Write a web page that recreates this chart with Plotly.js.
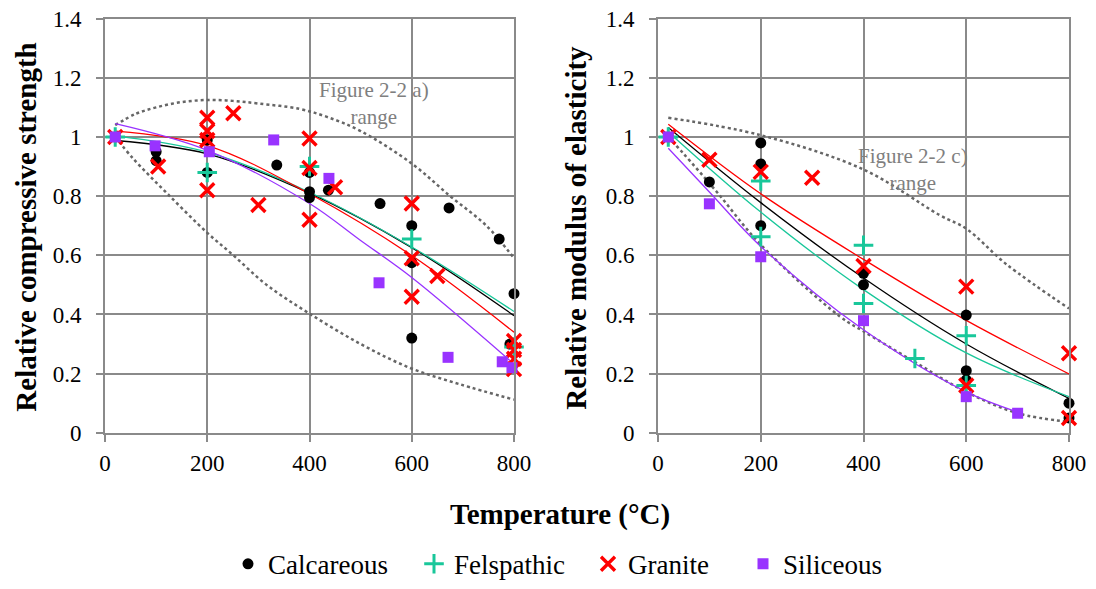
<!DOCTYPE html>
<html><head><meta charset="utf-8">
<script src="https://cdn.plot.ly/plotly-3.0.1.min.js"></script>
<style>html,body{margin:0;padding:0;background:#fff}#chart{width:1096px;height:589px}</style>
</head><body><div id="chart"></div>
<script>
// ---------- Left panel: relative compressive strength ----------
const calcT_L = [20,100,100,200,200,336,400,400,400,437,538,600,600,600,673,771,792,800];
const calcV_L = [1.0,0.95,0.92,0.99,0.88,0.905,0.88,0.815,0.795,0.82,0.775,0.70,0.575,0.32,0.76,0.655,0.30,0.47];
const felsT_L = [20,200,400,600,800];
const felsV_L = [1.0,0.88,0.90,0.655,0.29];
const granT_L = [20,104,200,200,200,200,251,300,400,400,400,450,600,600,600,650,800,800,800,800];
const granV_L = [1.0,0.90,1.065,1.02,0.99,0.82,1.08,0.77,0.995,0.895,0.72,0.83,0.775,0.59,0.46,0.53,0.31,0.28,0.25,0.215];
const silT_L = [20,98,204,330,438,536,671,777,796];
const silV_L = [1.0,0.97,0.95,0.99,0.86,0.507,0.255,0.24,0.22];

// trend lines (left)
const trendT_L = [20,200,400,600,800];
const calcTrend_L = [0.988,0.943,0.81,0.626,0.396];
const felsTrend_L = [1.004,0.949,0.813,0.628,0.41];
const granTrend_L = [1.02,0.971,0.808,0.599,0.34];
const silTrendT_L = [20,200,400,500,600,795];
const silTrend_L = [1.045,0.955,0.775,0.65,0.525,0.24];

// range envelope (left)
const upT_L = [20,60,100,150,200,250,300,380,434,500,600,675,746,800];
const upV_L = [1.04,1.078,1.10,1.118,1.125,1.122,1.113,1.095,1.068,1.02,0.91,0.80,0.70,0.59];
const loT_L = [20,55,121,200,251,316,398,500,597,694,800];
const loV_L = [1.0,0.927,0.81,0.676,0.60,0.50,0.405,0.30,0.219,0.164,0.112];

// ---------- Right panel: relative modulus of elasticity ----------
const calcT_R = [20,100,200,200,200,400,400,600,600,600,800,800];
const calcV_R = [1.0,0.848,0.98,0.909,0.70,0.539,0.50,0.398,0.21,0.179,0.10,0.05];
const felsT_R = [20,200,200,400,400,500,600,600];
const felsV_R = [1.0,0.851,0.663,0.634,0.437,0.251,0.328,0.16];
const granT_R = [20,100,200,300,400,600,600,800,800];
const granV_R = [1.0,0.923,0.882,0.862,0.564,0.494,0.16,0.269,0.05];
const silT_R = [20,100,200,400,600,700];
const silV_R = [1.0,0.774,0.595,0.379,0.122,0.066];

const trendT_R = [20,200,400,600,800];
const calcTrend_R = [1.032,0.778,0.523,0.30,0.116];
const felsTrend_R = [1.017,0.746,0.484,0.27,0.122];
const granTrend_R = [1.043,0.808,0.586,0.38,0.199];
const silTrendT_R = [20,100,200,400,600,700];
const silTrend_R = [0.962,0.814,0.63,0.348,0.138,0.07];

const upT_R = [20,200,400,549,600,678,800];
const upV_R = [1.065,1.006,0.89,0.735,0.69,0.57,0.42];
const loT_R = [20,49,115,200,354,400,501,600,700,800];
const loV_R = [1.0,0.945,0.813,0.636,0.393,0.343,0.238,0.138,0.066,0.037];

const xTicks = [0,200,400,600,800];
const yTicks = [0,0.2,0.4,0.6,0.8,1,1.2,1.4];
const yTickText = ['0','0.2','0.4','0.6','0.8','1','1.2','1.4'];
const names = ['Calcareous','Felspathic','Granite','Siliceous'];
const legendWidths = [141,129,110,100];

const cBlack = '#000000', cTeal = '#19c79a', cRed = '#ff0000', cPurple = '#9933ff', cGrey = '#666666';
const FONT = 'Liberation Serif';

function pts(x, y, xa, ya, idx, marker, showlegend) {
  return {x, y, xaxis: xa, yaxis: ya, type: 'scatter', mode: 'markers', name: names[idx],
          marker, showlegend, cliponaxis: false, legendgroup: names[idx], legendwidth: legendWidths[idx]};
}
function line(x, y, xa, ya, color, width, dash) {
  return {x, y, xaxis: xa, yaxis: ya, type: 'scatter', mode: 'lines',
          line: {color, width, dash: dash || 'solid', shape: 'spline', smoothing: 1},
          showlegend: false, hoverinfo: 'skip', cliponaxis: true};
}
const mCalc = {symbol: 'circle', size: 11, color: cBlack};
const mFels = {symbol: 'cross-thin', size: 14, color: cTeal, line: {color: cTeal, width: 3}};
const mGran = {symbol: 'x-thin', size: 14, color: cRed, line: {color: cRed, width: 3.4}};
const mSil = {symbol: 'square', size: 11, color: cPurple};

const data = [
  line(upT_L, upV_L, 'x', 'y', cGrey, 2.5, 'dot'),
  line(loT_L, loV_L, 'x', 'y', cGrey, 2.5, 'dot'),
  line(upT_R, upV_R, 'x2', 'y2', cGrey, 2.5, 'dot'),
  line(loT_R, loV_R, 'x2', 'y2', cGrey, 2.5, 'dot'),
  line(trendT_L, calcTrend_L, 'x', 'y', cBlack, 1.3),
  line(trendT_L, felsTrend_L, 'x', 'y', cTeal, 1.3),
  line(trendT_L, granTrend_L, 'x', 'y', cRed, 1.3),
  line(silTrendT_L, silTrend_L, 'x', 'y', cPurple, 1.3),
  line(trendT_R, calcTrend_R, 'x2', 'y2', cBlack, 1.3),
  line(trendT_R, felsTrend_R, 'x2', 'y2', cTeal, 1.3),
  line(trendT_R, granTrend_R, 'x2', 'y2', cRed, 1.3),
  line(silTrendT_R, silTrend_R, 'x2', 'y2', cPurple, 1.3),
  pts(calcT_L, calcV_L, 'x', 'y', 0, mCalc, true),
  pts(felsT_L, felsV_L, 'x', 'y', 1, mFels, true),
  pts(granT_L, granV_L, 'x', 'y', 2, mGran, true),
  pts(silT_L, silV_L, 'x', 'y', 3, mSil, true),
  pts(calcT_R, calcV_R, 'x2', 'y2', 0, mCalc, false),
  pts(felsT_R, felsV_R, 'x2', 'y2', 1, mFels, false),
  pts(granT_R, granV_R, 'x2', 'y2', 2, mGran, false),
  pts(silT_R, silV_R, 'x2', 'y2', 3, mSil, false)
];

const W = 1096, H = 589;
const gridC = '#8a8a8a';
function xax(l, r, anchor) {
  return {domain: [l / W, r / W], range: [0, 800], anchor, tickmode: 'array', tickvals: xTicks,
          showgrid: true, gridcolor: gridC, gridwidth: 2, zeroline: false,
          showline: true, mirror: true, linecolor: gridC, linewidth: 2,
          ticks: 'outside', ticklen: 7, tickwidth: 2, tickcolor: gridC, ticklabelstandoff: 2,
          tickfont: {family: FONT, size: 23, color: '#000'}, fixedrange: true};
}
function yax(anchor) {
  return {domain: [1 - 441 / H, 1 - 19 / H], range: [0, 1.4], anchor, tickmode: 'array',
          tickvals: yTicks, ticktext: yTickText,
          showgrid: true, gridcolor: gridC, gridwidth: 2, zeroline: false,
          showline: true, mirror: true, linecolor: gridC, linewidth: 2,
          ticks: 'outside', ticklen: 7, tickwidth: 2, tickcolor: gridC, ticklabelstandoff: 10,
          tickfont: {family: FONT, size: 23, color: '#000'}, fixedrange: true};
}

const layout = {
  width: W, height: H, margin: {l: 0, r: 0, t: 0, b: 0},
  paper_bgcolor: '#fff', plot_bgcolor: '#fff',
  font: {family: FONT, color: '#000'},
  xaxis: xax(105, 514, 'y'), yaxis: yax('x'),
  xaxis2: xax(658, 1069, 'y2'), yaxis2: yax('x2'),
  showlegend: true,
  legend: {orientation: 'h', x: 558 / W, xanchor: 'center', y: 1 - 575 / H, yanchor: 'middle',
           font: {family: FONT, size: 27, color: '#000'}, itemsizing: 'trace', itemwidth: 30,
           tracegroupgap: 0, bgcolor: 'rgba(0,0,0,0)'},
  annotations: [
    {text: '<b>Relative compressive strength</b>', xref: 'paper', yref: 'paper',
     x: 26 / W, y: 1 - 232 / H, xanchor: 'center', yanchor: 'middle', textangle: -90, showarrow: false,
     font: {family: FONT, size: 29, color: '#000'}},
    {text: '<b>Relative modulus of elasticity</b>', xref: 'paper', yref: 'paper',
     x: 576 / W, y: 1 - 232 / H, xanchor: 'center', yanchor: 'middle', textangle: -90, showarrow: false,
     font: {family: FONT, size: 29, color: '#000'}},
    {text: '<b>Temperature (°C)</b>', xref: 'paper', yref: 'paper',
     x: 560 / W, y: 1 - 524 / H, xanchor: 'center', yanchor: 'middle', showarrow: false,
     font: {family: FONT, size: 29, color: '#000'}},
    {text: 'Figure 2-2 a)<br>range', xref: 'x', yref: 'y', x: 526, y: 1.112, showarrow: false,
     xanchor: 'center', yanchor: 'middle',
     font: {family: FONT, size: 21, color: '#7f7f7f'}},
    {text: 'Figure 2-2 c)<br>range', xref: 'x2', yref: 'y2', x: 497, y: 0.89, showarrow: false,
     xanchor: 'center', yanchor: 'middle',
     font: {family: FONT, size: 21, color: '#7f7f7f'}}
  ]
};

Plotly.newPlot('chart', data, layout, {staticPlot: true, displayModeBar: false});
</script>
</body></html>
